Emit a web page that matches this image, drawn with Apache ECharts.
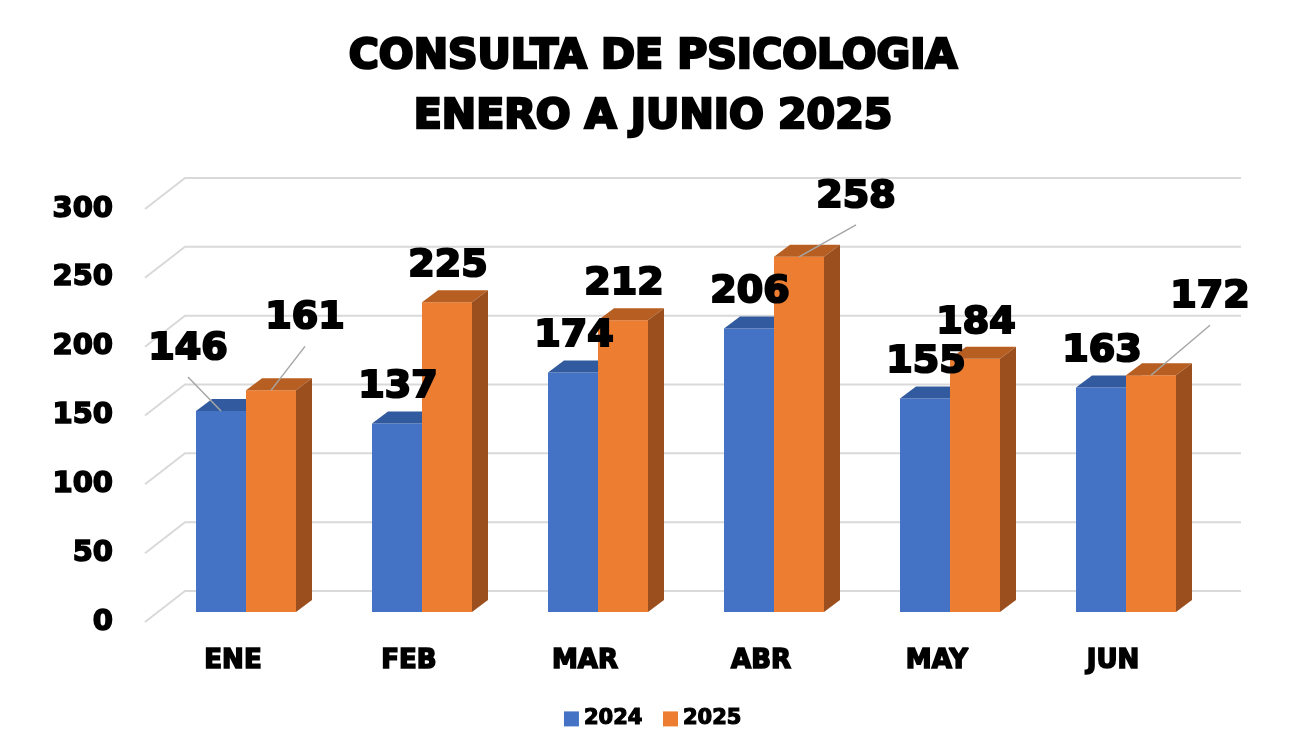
<!DOCTYPE html>
<html>
<head>
<meta charset="utf-8">
<script src="https://cdn.jsdelivr.net/npm/echarts@6.0.0/dist/echarts.min.js"></script>
<style>
  html, body { margin: 0; padding: 0; background: #fff; }
  #chartmain { width: 1306px; height: 752px; }
</style>
</head>
<body>
<div id="chartmain"></div>
<script>
var months = ['ENE', 'FEB', 'MAR', 'ABR', 'MAY', 'JUN'];
var visits2024 = [146, 137, 174, 206, 155, 163];
var visits2025 = [161, 225, 212, 258, 184, 172];
var yTicks = [0, 50, 100, 150, 200, 250, 300];

// label nudges for the callouts with leader lines (null = straight above the bar)
var callout2024 = [[-33, -62], null, null, null, null, null];
var callout2025 = [[34, -72], null, null, [57, -60], null, [59, -78]];

var FONT = '"DejaVu Sans", "Liberation Sans", sans-serif';
// fake 3d: full floor depth, bar front offset and bar depth
var WALL_X = 40, WALL_Y = -31;
var FRONT_X = 13, FRONT_Y = -10;
var DEPTH_X = 16, DEPTH_Y = -12;
var BAR_FRAC = 50 / 176;

var blue = { front: '#4472C4', top: '#325A9E', side: '#2B4E8A' };
var orange = { front: '#ED7D31', top: '#B75F22', side: '#9B4F1E' };

function toData(arr) {
	return arr.map(function(v, i) { return [i, v]; });
}

function gridRender(params, api) {
	var cs = params.coordSys;
	var y = api.coord([0, api.value(1)])[1];
	return {
		type : 'polyline',
		shape : {
			points : [[cs.x, y], [cs.x + WALL_X, y + WALL_Y], [cs.x + cs.width + WALL_X, y + WALL_Y]]
		},
		style : { stroke : '#D9D9D9', lineWidth : 2, fill : null },
		silent : true
	};
}

function barRender(idx, c) {
	return function(params, api) {
		var i = api.value(0), v = api.value(1);
		var base = api.coord([i, 0]);
		var topPt = api.coord([i, v]);
		var w = api.size([1, 0])[0] * BAR_FRAC;
		var L = base[0] - w + idx * w + FRONT_X;
		var R = L + w;
		var B = base[1] + FRONT_Y;
		var T = topPt[1] + FRONT_Y;
		return {
			type : 'group',
			children : [
				{ type : 'rect', shape : { x : L, y : T, width : w, height : B - T }, style : { fill : c.front } },
				{ type : 'polygon', shape : { points : [[L, T], [R, T], [R + DEPTH_X, T + DEPTH_Y], [L + DEPTH_X, T + DEPTH_Y]] }, style : { fill : c.top } },
				{ type : 'polygon', shape : { points : [[R, T], [R + DEPTH_X, T + DEPTH_Y], [R + DEPTH_X, B + DEPTH_Y], [R, B]] }, style : { fill : c.side } }
			]
		};
	};
}

function labelRender(idx, shifts) {
	return function(params, api) {
		var i = api.value(0), v = api.value(1);
		var base = api.coord([i, 0]);
		var topPt = api.coord([i, v]);
		var w = api.size([1, 0])[0] * BAR_FRAC;
		var cx = base[0] - w + idx * w + FRONT_X + w / 2;
		var T = topPt[1] + FRONT_Y;
		var s = shifts[i];
		var lx = cx + (s ? s[0] : 1);
		var ly = T + (s ? s[1] : -36);
		var kids = [{
			type : 'text',
			x : lx, y : ly,
			style : {
				text : String(v), font : 'bold 38px ' + FONT, fill : '#000',
				stroke : '#000', lineWidth : 2.2,
				align : 'center', verticalAlign : 'middle'
			}
		}];
		if (s) {
			kids.push({
				type : 'line',
				shape : { x1 : lx, y1 : ly + 28, x2 : cx, y2 : T },
				style : { stroke : '#A6A6A6', lineWidth : 1.5 }
			});
		}
		return { type : 'group', children : kids };
	};
}

var option = {
	animation : false,
	title : {
		text : 'CONSULTA DE PSICOLOGIA\nENERO A JUNIO 2025',
		left : 'center',
		top : 22,
		textStyle : {
			fontFamily : FONT, fontWeight : 'bold', fontSize : 41, lineHeight : 60,
			color : '#000', textBorderColor : '#000', textBorderWidth : 2.6
		}
	},
	legend : {
		data : ['2024', '2025'],
		bottom : 17,
		left : 'center',
		icon : 'rect',
		itemWidth : 15,
		itemHeight : 15,
		itemGap : 20,
		textStyle : {
			fontFamily : FONT, fontWeight : 'bold', fontSize : 21, color : '#000',
			textBorderColor : '#000', textBorderWidth : 1.2
		}
	},
	grid : { left : 145, right : 105, top : 209, bottom : 130 },
	xAxis : {
		type : 'category',
		data : months,
		axisLine : { show : false },
		axisTick : { show : false },
		axisLabel : {
			margin : 26,
			fontFamily : FONT, fontWeight : 'bold', fontSize : 26, color : '#000',
			textBorderColor : '#000', textBorderWidth : 1.6
		}
	},
	yAxis : {
		type : 'value',
		min : 0,
		max : 300,
		interval : 50,
		splitLine : { show : false },
		axisLine : { show : false },
		axisLabel : {
			margin : 32,
			fontFamily : FONT, fontWeight : 'bold', fontSize : 29, color : '#000',
			textBorderColor : '#000', textBorderWidth : 1.6
		}
	},
	series : [
		{ name : 'grid', type : 'custom', z : 1, renderItem : gridRender, data : yTicks.map(function(t) { return [0, t]; }) },
		{ name : '2024', type : 'custom', z : 2, itemStyle : { color : blue.front }, renderItem : barRender(0, blue), data : toData(visits2024) },
		{ name : '2025', type : 'custom', z : 3, itemStyle : { color : orange.front }, renderItem : barRender(1, orange), data : toData(visits2025) },
		{ name : 'lbl2024', type : 'custom', z : 5, silent : true, renderItem : labelRender(0, callout2024), data : toData(visits2024) },
		{ name : 'lbl2025', type : 'custom', z : 5, silent : true, renderItem : labelRender(1, callout2025), data : toData(visits2025) }
	]
};

var myChart = echarts.init(document.getElementById('chartmain'));
myChart.setOption(option);
</script>
</body>
</html>
